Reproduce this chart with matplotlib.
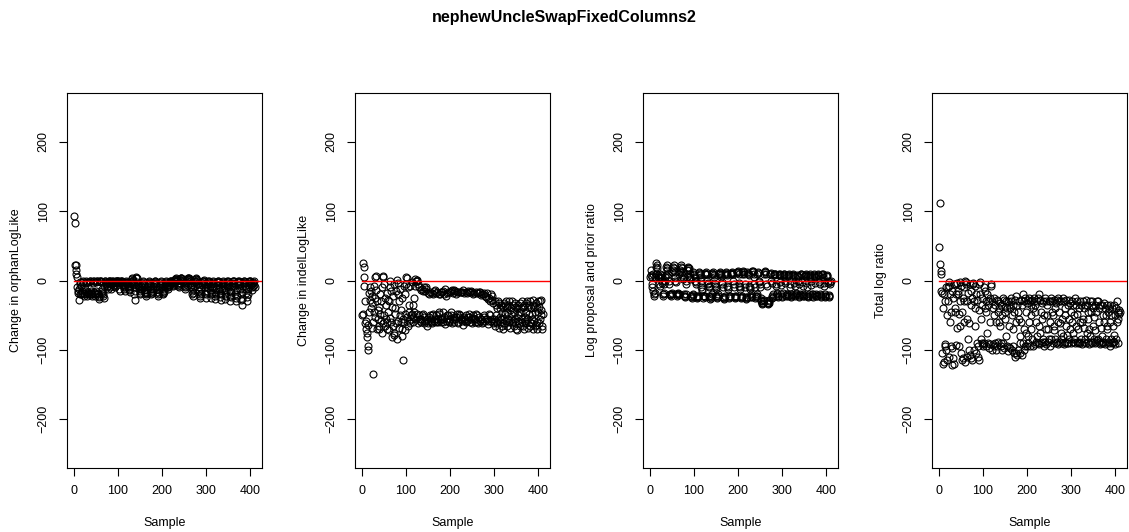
import matplotlib
matplotlib.use("Agg")
import matplotlib.pyplot as plt
import numpy as np

plt.rcParams["font.family"] = ["Liberation Sans", "DejaVu Sans"]

title = "nephewUncleSwapFixedColumns2"
ylabels = ["Change in orphanLogLike", "Change in indelLogLike",
           "Log proposal and prior ratio", "Total log ratio"]

orphan = [
    93, 83, 22, 22, 15, 10, 5, -10, -15, -18, -28, -12, -20, -5, -2, -8, -20, -15, -18, -2,
    -1, -18, -20, -22, -15, -12, -3, -1, -2, -20, -22, -18, -16, -20, -2, -1, -1, -15, -18, -20,
    -20, -22, -3, -1, 0, -16, -18, -22, -20, -15, -2, -1, -1, -18, -20, -24, -26, -22, -1, 0,
    -2, -1, -15, -18, -12, -20, -22, -25, -8, -1, 0, -2, -3, -5, -8, -10, -12, -2, -1, 0,
    -1, -2, -10, -12, -5, -3, -1, 0, -2, -4, -6, -8, -10, -2, -1, 0, -1, -3, -2, -1,
    -1, -2, -12, -15, -3, -1, -2, 0, -1, -2, -5, -8, -10, -12, -15, -6, -2, -1, -3, -4,
    -2, -5, -8, -10, -12, -14, -16, -8, -4, -2, 2, 3, 1, -1, -3, -5, -20, -28, -15, -10,
    4, 5, 3, -2, -5, -8, -10, -12, -15, -18, -20, -12, -8, -5, -3, -1, -2, -6, -10, -14,
    -16, -18, -20, -22, -18, -14, -10, -6, -4, -2, -1, -3, -8, -12, -16, -20, -18, -15, -12, -8,
    -5, -3, -1, 0, -2, -4, -8, -12, -16, -20, -22, -18, -14, -10, -6, -3, -1, -2, -5, -10,
    -15, -18, -20, -16, -12, -8, -5, -2, -1, -3, -6, -9, -12, -10, -8, -6, -4, -2, -1, 0,
    -1, -2, -4, -6, -8, -5, -3, -1, 1, 2, 3, 2, 1, -1, -3, -5, -8, -10, -6, -3,
    1, 3, 4, 3, 2, 1, -1, -2, -4, -6, -8, -10, -12, -5, -2, 0, 2, 3, 4, 3,
    2, 1, -1, -3, -6, -10, -15, -20, -22, -18, -12, -8, -4, -2, 0, 2, 3, 2, 1, -1,
    -3, -5, -10, -15, -20, -25, -22, -18, -12, -6, -3, -1, 0, 1, -2, -5, -10, -18, -25, -20,
    -15, -10, -5, -2, -1, 0, -3, -8, -14, -20, -25, -18, -10, -5, -2, -1, -4, -10, -16, -22,
    -26, -20, -12, -6, -2, -1, 0, -2, -6, -12, -18, -24, -28, -20, -12, -5, -2, -1, -3, -8,
    -14, -20, -26, -22, -15, -8, -3, -1, 0, -2, -5, -10, -15, -22, -30, -24, -16, -8, -3, -1,
    0, -1, -3, -8, -14, -20, -25, -30, -22, -14, -6, -2, -1, 0, -2, -5, -12, -20, -28, -35,
    -26, -16, -8, -3, -1, 0, -2, -4, -8, -12, -18, -24, -30, -20, -12, -6, -2, -1, 0, -1,
    -3, -6, -10, -14, -8, -4, -2, -1, -6, -10,
]

indel = [
    -50, -48, 25, 20, 5, -8, -30, -62, -70, -58, -82, -75, -95, -100, -64, -45, -18, -28, -10, -40,
    -15, -68, -32, -22, -135, -60, -45, -8, -25, -52, 5, -14, 6, -70, -30, -42, -55, -70, -38, -65,
    -20, -48, -58, -30, -76, -10, 5, 7, -62, -5, -50, -25, -66, -35, -55, -18, -70, -60, -28, -45,
    -30, -72, -10, -54, 0, -15, -60, -38, -82, -65, -22, -75, -5, -78, -48, -40, -62, -15, -85, 1,
    -3, -58, -20, -68, -30, -50, -12, -60, -42, -70, -25, -80, -115, -55, -60, -8, -72, -20, -48, -5,
    5, -52, 3, -65, -10, -58, -35, -45, -62, -8, -55, -50, -2, -48, -60, -35, -52, -25, -45, -8,
    2, -55, 0, -48, 0, 1, -62, -5, -50, -10, -58, -55, -14, -60, -55, -12, -50, -48, -15, -62,
    -10, -52, -15, -58, -12, -10, -65, -55, -18, -62, -58, -20, -52, -50, -16, -55, -60, -62, -18, -50,
    -20, -48, -15, -58, -14, -56, -18, -60, -50, -17, -58, -60, -55, -19, -45, -48, -20, -56, -60, -16,
    -55, -17, -45, -60, -15, -52, -20, -63, -12, -58, -22, -50, -18, -56, -50, -16, -58, -60, -17, -55,
    -50, -15, -45, -62, -14, -57, -18, -52, -14, -60, -15, -55, -20, -52, -48, -17, -60, -62, -16, -52,
    -48, -16, -50, -55, -17, -58, -55, -16, -64, -14, -52, -18, -58, -55, -16, -60, -50, -18, -58, -52,
    -15, -48, -52, -17, -60, -17, -56, -15, -62, -16, -54, -20, -50, -55, -18, -60, -56, -17, -48, -50,
    -18, -60, -62, -18, -52, -16, -58, -17, -55, -21, -55, -19, -62, -60, -20, -52, -50, -18, -58, -22,
    -24, -56, -18, -55, -26, -63, -58, -25, -48, -50, -30, -20, -58, -22, -55, -28, -62, -32, -55, -60,
    -65, -30, -58, -35, -50, -62, -40, -55, -30, -68, -32, -52, -40, -60, -35, -55, -45, -65, -70, -38,
    -55, -32, -62, -36, -48, -30, -58, -38, -66, -45, -35, -55, -60, -30, -68, -42, -55, -48, -40, -62,
    -30, -58, -36, -65, -45, -32, -55, -60, -38, -70, -72, -40, -58, -50, -35, -62, -45, -32, -66, -40,
    -45, -30, -55, -60, -38, -66, -70, -35, -58, -52, -46, -32, -62, -30, -55, -38, -68, -48, -35, -60,
    -65, -30, -62, -40, -48, -55, -36, -70, -28, -58, -38, -45, -65, -32, -64, -70, -40, -60, -30, -45,
    -38, -62, -30, -55, -42, -50, -28, -65, -70, -48,
]

logprop = [
    5, 8, 15, -10, -5, 5, 10, -15, -20, -22, -18, 5, 10, 20, 25, 22, 18, 8, 5, 3,
    -5, -8, 5, 10, 8, 5, 0, -3, -20, -22, -20, -18, -5, 0, 5, 8, 20, 22, 18, 15,
    10, 5, 0, -5, -20, -21, -22, -20, -19, -18, 12, 15, 20, 22, 18, 12, 5, 0, -2, -20,
    -22, -20, -18, -19, -21, -20, 10, 12, 15, 20, 22, 18, 12, 8, 5, 2, -20, -22, -24, -22,
    -20, -5, 0, 5, 15, 18, 20, 18, 15, 10, 5, 2, -22, -24, -25, -23, -21, -20, 12, 10,
    8, 5, 0, -2, -5, -22, -24, -25, -24, -22, 12, 11, 10, 8, 5, 0, -10, -12, -15, -22,
    -25, -23, -22, -24, 10, 11, 12, 10, 9, 0, -3, -5, -8, -10, -22, -24, -26, -25, -22, -20,
    10, 11, 12, 10, 8, 5, -5, -8, -10, -12, -22, -25, -24, -22, -20, 9, 10, 11, 12, 10,
    8, 5, -2, -5, -10, -24, -25, -26, -24, -22, 10, 11, 12, 10, 8, -8, -10, -12, -24, -25,
    -23, -22, 9, 10, 11, 12, 11, 10, 0, -5, -10, -22, -24, -25, -24, -22, 11, 12, 13, 12,
    10, -3, -8, -10, -12, -24, -25, -24, -22, 10, 12, 14, 12, 10, -5, -10, -24, -25, -26, -24,
    12, 11, 10, 8, -8, -10, -12, -24, -22, -20, -24, 13, 14, 12, 10, 5, -5, -10, -25, -24,
    -22, -20, -23, 10, 11, 12, 0, -2, -5, -10, -25, -28, -30, -32, -34, -33, -30, -28, 10, 12,
    13, 12, 10, -5, -8, -32, -33, -34, -32, -30, -28, 9, 10, 11, 0, -3, -25, -22, -20, -24,
    10, 8, 9, 10, -5, -8, -22, -20, -18, -22, -24, 8, 9, 10, 8, -2, -6, -20, -22, -24,
    -18, 8, 10, 9, 7, 0, -4, -22, -21, -20, -19, -22, 7, 8, 10, 8, -5, -10, -20, -22,
    -24, -21, 8, 9, 8, 6, -3, -8, -21, -22, -20, -18, 6, 8, 7, 0, -5, -22, -24, -21,
    -20, 9, 10, 8, -2, -8, -20, -22, -23, -21, 7, 8, 9, 8, -4, -10, -22, -24, -23, -20,
    8, 9, 7, 5, 0, -6, -20, -22, -24, -20, 10, 8, 6, 5, -3, -20, -22, -21, -23, 8,
    9, 8, 6, -2, -5, -20, -22, -24, -21, 8, 9, 10, 5, -3, -8, -22, -24, -20, -22, 7,
    8, 6, 0, -4, -21, -22, -24, -5, -2, 0,
]

total = [
    48, 112, 24, 13, 10, -15, -105, -18, -120, -40, -20, -118, -95, -30, -92, -100, -10, -115, -50, -30,
    -10, -2, -110, -8, -60, -20, -95, -45, -15, -122, -98, -25, -112, -5, -120, -45, -40, -20, -93, -5,
    -3, -68, -15, -20, -95, -48, -2, -30, -65, -105, -8, -115, -45, -25, -112, -30, -60, -10, -118, 0,
    -2, -5, -110, -30, -55, -18, -85, -62, -100, -5, -108, -35, -112, -15, -25, -115, -5, -3, -100, -30,
    -40, -8, -65, -105, -20, -90, -28, -95, -110, -42, -5, -115, -2, -20, -85, -55, -25, -90, -35, -95,
    -92, -10, -90, -40, -15, -30, -95, -45, -20, -75, -90, -35, -98, -30, -60, -92, -25, -5, -8, -100,
    -30, -92, -40, -50, -25, -95, -90, -35, -60, -100, -28, -95, -30, -45, -88, -40, -60, -32, -65, -90,
    -95, -35, -100, -50, -90, -25, -28, -97, -38, -45, -55, -30, -80, -95, -40, -102, -30, -96, -65, -35,
    -40, -98, -25, -30, -50, -100, -70, -35, -95, -45, -105, -28, -110, -60, -105, -22, -108, -35, -45, -100,
    -55, -30, -80, -105, -90, -28, -60, -108, -35, -90, -20, -100, -30, -70, -95, -25, -75, -45, -95, -32,
    -90, -28, -80, -25, -60, -30, -95, -50, -35, -70, -28, -85, -40, -95, -30, -25, -92, -35, -45, -88,
    -60, -30, -80, -90, -25, -65, -92, -20, -75, -28, -45, -90, -55, -32, -88, -85, -30, -95, -50, -88,
    -25, -70, -30, -92, -50, -35, -88, -70, -30, -85, -60, -95, -30, -85, -25, -45, -30, -90, -50, -65,
    -72, -28, -85, -40, -90, -32, -88, -28, -60, -25, -92, -45, -30, -62, -88, -75, -30, -85, -55, -90,
    -25, -80, -30, -92, -40, -50, -88, -65, -28, -78, -90, -35, -90, -55, -28, -85, -32, -70, -45, -90,
    -60, -30, -75, -88, -35, -85, -50, -25, -90, -35, -65, -48, -88, -30, -70, -90, -40, -88, -60, -90,
    -30, -85, -36, -60, -92, -55, -30, -68, -88, -40, -85, -35, -90, -28, -75, -35, -88, -45, -55, -92,
    -70, -30, -80, -45, -88, -35, -90, -30, -65, -40, -85, -52, -90, -35, -72, -88, -45, -86, -30, -85,
    -30, -88, -40, -60, -92, -35, -68, -90, -80, -35, -90, -50, -88, -32, -60, -40, -92, -50, -85, -65,
    -70, -35, -88, -45, -90, -40, -94, -35, -60, -85, -50, -90, -40, -65, -88, -78, -35, -88, -50, -92,
    -40, -85, -30, -60, -45, -90, -55, -48, -42, -46,
]

series = [orphan, indel, logprop, total]

fig = plt.figure(figsize=(11.29, 5.32), dpi=100)
fig.text(0.5, 0.967, title, ha="center", va="center", fontsize=11.5, fontweight="bold")

lefts = [67, 355, 643, 932]
for i, vals in enumerate(series):
    ax = fig.add_axes([lefts[i] / 1129, 64 / 532, 195 / 1129, 375 / 532])
    y = np.array(vals)
    x = np.arange(1, len(y) + 1)
    ax.plot(x, y, "o", mfc="none", mec="black", ms=5, mew=0.8, ls="none")
    ax.plot([1, 600], [0, 0], color="red", lw=1)
    ax.set_xlim(-15.4, 426.4)
    ax.set_ylim(-270.4, 270.4)
    ax.set_xticks([0, 100, 200, 300, 400])
    ax.set_yticks([-200, -100, 0, 100, 200])
    ax.tick_params(direction="out", length=5.5, width=0.8, labelsize=9, pad=7)
    for lab in ax.get_yticklabels():
        lab.set_rotation(90)
        lab.set_va("center")
    ax.set_xlabel("Sample", fontsize=9, labelpad=14)
    ax.set_ylabel(ylabels[i], fontsize=9, labelpad=11)
    for sp in ax.spines.values():
        sp.set_linewidth(0.8)

fig.savefig("out.png", dpi=100)
